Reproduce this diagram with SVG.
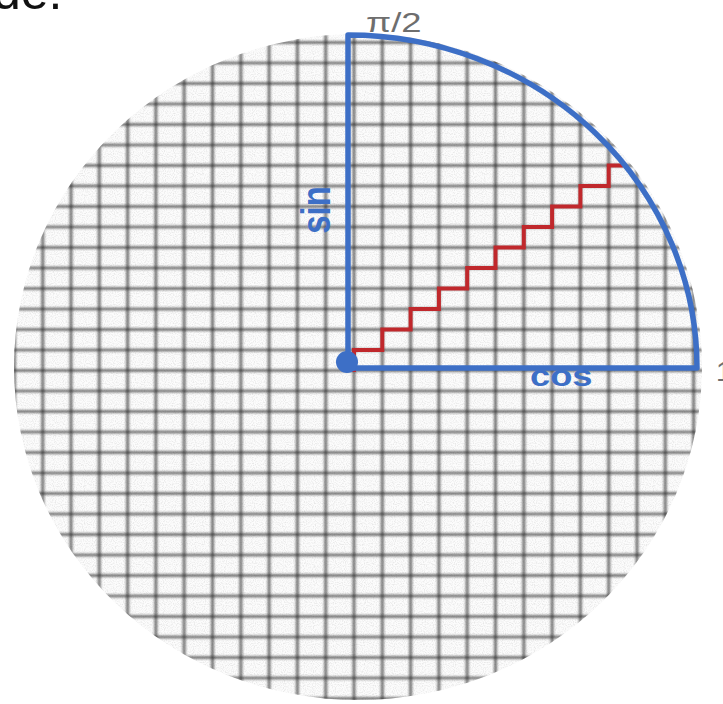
<svg xmlns="http://www.w3.org/2000/svg" width="723" height="704" viewBox="0 0 723 704">
  <defs>
    <clipPath id="disc">
      <ellipse cx="358" cy="367" rx="344" ry="333"/>
    </clipPath>
    <filter id="soft" x="-5%" y="-5%" width="110%" height="110%">
      <feGaussianBlur stdDeviation="0.8"/>
    </filter>
    <filter id="speckle" x="0" y="0" width="100%" height="100%">
      <feTurbulence type="fractalNoise" baseFrequency="0.9" numOctaves="1" seed="3" result="n"/>
      <feColorMatrix in="n" type="matrix" values="0 0 0 0 0.5  0 0 0 0 0.5  0 0 0 0 0.5  0 0 0 -3 1.7" result="dots"/>
      <feComposite in="dots" in2="SourceGraphic" operator="in"/>
    </filter>
    <style>
      .grid { fill: none; stroke: #2a2a2a; stroke-opacity: 0.6; stroke-width: 3.2; }
      .blue { fill: none; stroke: #3d6fc6; stroke-width: 5.5; stroke-linejoin: round; }
      .red { fill: none; stroke: #c0282c; stroke-width: 4; stroke-linejoin: miter; }
      .lbl { font-family: "Liberation Sans", Arial, sans-serif; }
      .bluelbl { font-family: "Liberation Sans", Arial, sans-serif; font-weight: bold; fill: #3d6fc6; }
    </style>
  </defs>

  <rect width="723" height="704" fill="#ffffff"/>

  <g id="disc-bg">
    <ellipse cx="358" cy="367" rx="344" ry="333" fill="#fcfcfc"/>
    <ellipse cx="358" cy="367" rx="344" ry="333" fill="#ffffff" filter="url(#speckle)" opacity="0.3"/>
  </g>

  <g id="grid" clip-path="url(#disc)">
    <path class="grid" filter="url(#soft)" d="M14.4 0V704M42.7 0V704M71 0V704M99.3 0V704M127.6 0V704M155.9 0V704M184.2 0V704M212.5 0V704M240.8 0V704M269.1 0V704M297.4 0V704M325.7 0V704M354 0V704M382.3 0V704M410.6 0V704M438.9 0V704M467.2 0V704M495.5 0V704M523.8 0V704M552.1 0V704M580.4 0V704M608.7 0V704M637 0V704M665.3 0V704M693.6 0V704"/>
    <path class="grid" filter="url(#soft)" d="M0 22H723M0 42.5H723M0 63H723M0 83.5H723M0 104H723M0 124.5H723M0 145H723M0 165.5H723M0 186H723M0 206.5H723M0 227H723M0 247.5H723M0 268H723M0 288.5H723M0 309H723M0 329.5H723M0 350H723M0 370.5H723M0 391H723M0 411.5H723M0 432H723M0 452.5H723M0 473H723M0 493.5H723M0 514H723M0 534.5H723M0 555H723M0 575.5H723M0 596H723M0 616.5H723M0 637H723M0 657.5H723M0 678H723M0 698.5H723"/>
  </g>

  <g id="connectors">
    <path id="staircase" class="red" d="M354 372V350H382.3V329.5H410.6V309H438.9V288.5H467.2V268H495.5V247.5H523.8V227H552.1V206.5H580.4V186H608.7V165.5H623"/>
    <path id="quarter" class="blue" d="M348 368V35A349 333 0 0 1 697 368Z"/>
    <circle id="origin" cx="347" cy="362" r="11" fill="#3d6fc6"/>
  </g>

  <g id="labels">
    <text class="lbl" x="-7" y="9" font-size="50" fill="#111111">de.</text>
    <text class="lbl" transform="translate(366 32) scale(1.35 1)" font-size="27" fill="#6e6e6e">π/2</text>
    <text class="bluelbl" transform="translate(330 210) scale(1.25 1) rotate(-90)" text-anchor="middle" font-size="33">sin</text>
    <text class="bluelbl" transform="translate(530 386) scale(1.25 1)" font-size="29">cos</text>
    <text class="lbl" x="716" y="381" font-size="28" fill="#6e6e6e">1</text>
  </g>
</svg>
